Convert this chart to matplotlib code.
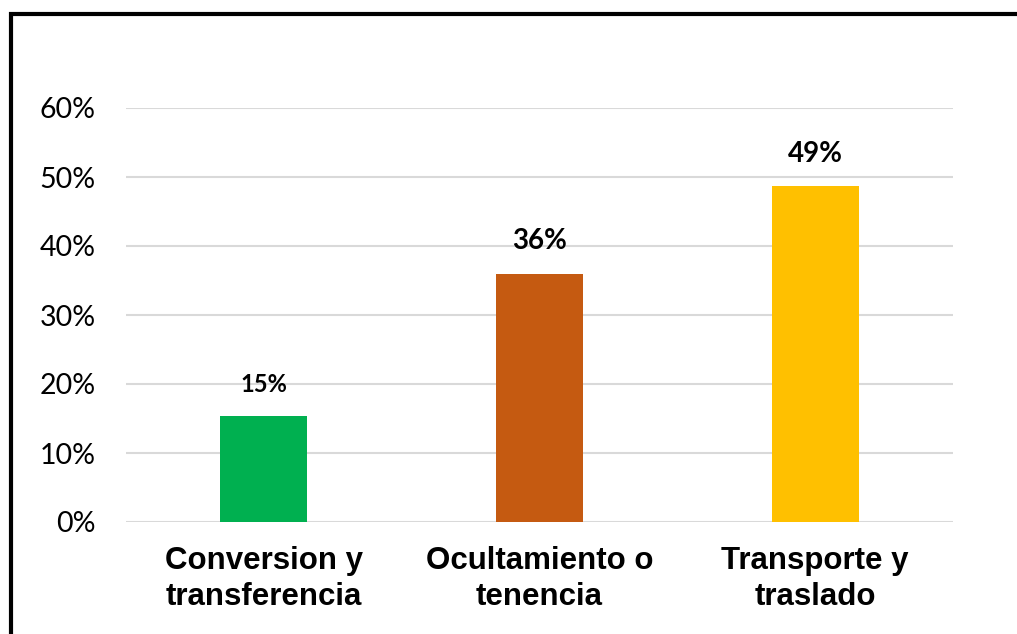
import matplotlib.pyplot as plt
from matplotlib.patches import Rectangle

categories = ["Conversion y\ntransferencia", "Ocultamiento o\ntenencia", "Transporte y\ntraslado"]
values = [0.154, 0.36, 0.487]
colors = ["#00B050", "#C55A11", "#FFC000"]
label_sizes = [17, 20, 20]
yticks = [0, 0.1, 0.2, 0.3, 0.4, 0.5, 0.6]

fig = plt.figure(figsize=(10.17, 6.34), dpi=100)
ax = fig.add_axes([126 / 1017, 1 - 522 / 634, 827 / 1017, 414 / 634])

x = range(len(categories))
ax.bar(x, values, width=0.315, color=colors, zorder=3)

for i, v in enumerate(values):
    ax.text(i, v + 0.028, f"{round(v * 100):.0f}%", ha="center", va="bottom",
            fontsize=label_sizes[i], fontweight="bold", family="Lato", zorder=4)

ax.set_xlim(-0.5, 2.5)
ax.set_ylim(0, 0.6)
ax.set_yticks(yticks)
ax.set_yticklabels([f"{int(t * 100)}%" for t in yticks], family="Lato", fontsize=20.5)
ax.set_xticks(list(x))
ax.set_xticklabels(categories, family="Liberation Sans", fontweight="bold",
                   fontsize=22.5, linespacing=1.27)
ax.tick_params(axis="both", length=0)
ax.tick_params(axis="y", pad=22)
ax.tick_params(axis="x", pad=17)
ax.grid(axis="y", color="#d9d9d9", linewidth=1.5, zorder=0)
for s in ax.spines.values():
    s.set_visible(False)

# outer chart border (cut at right and bottom edges)
fig.patches.append(Rectangle((11 / 1017, -0.05), 1.1, 1 - 14 / 634 + 0.05,
                             transform=fig.transFigure, fill=False,
                             edgecolor="black", linewidth=3, zorder=10))

fig.savefig("out.png", dpi=100)
